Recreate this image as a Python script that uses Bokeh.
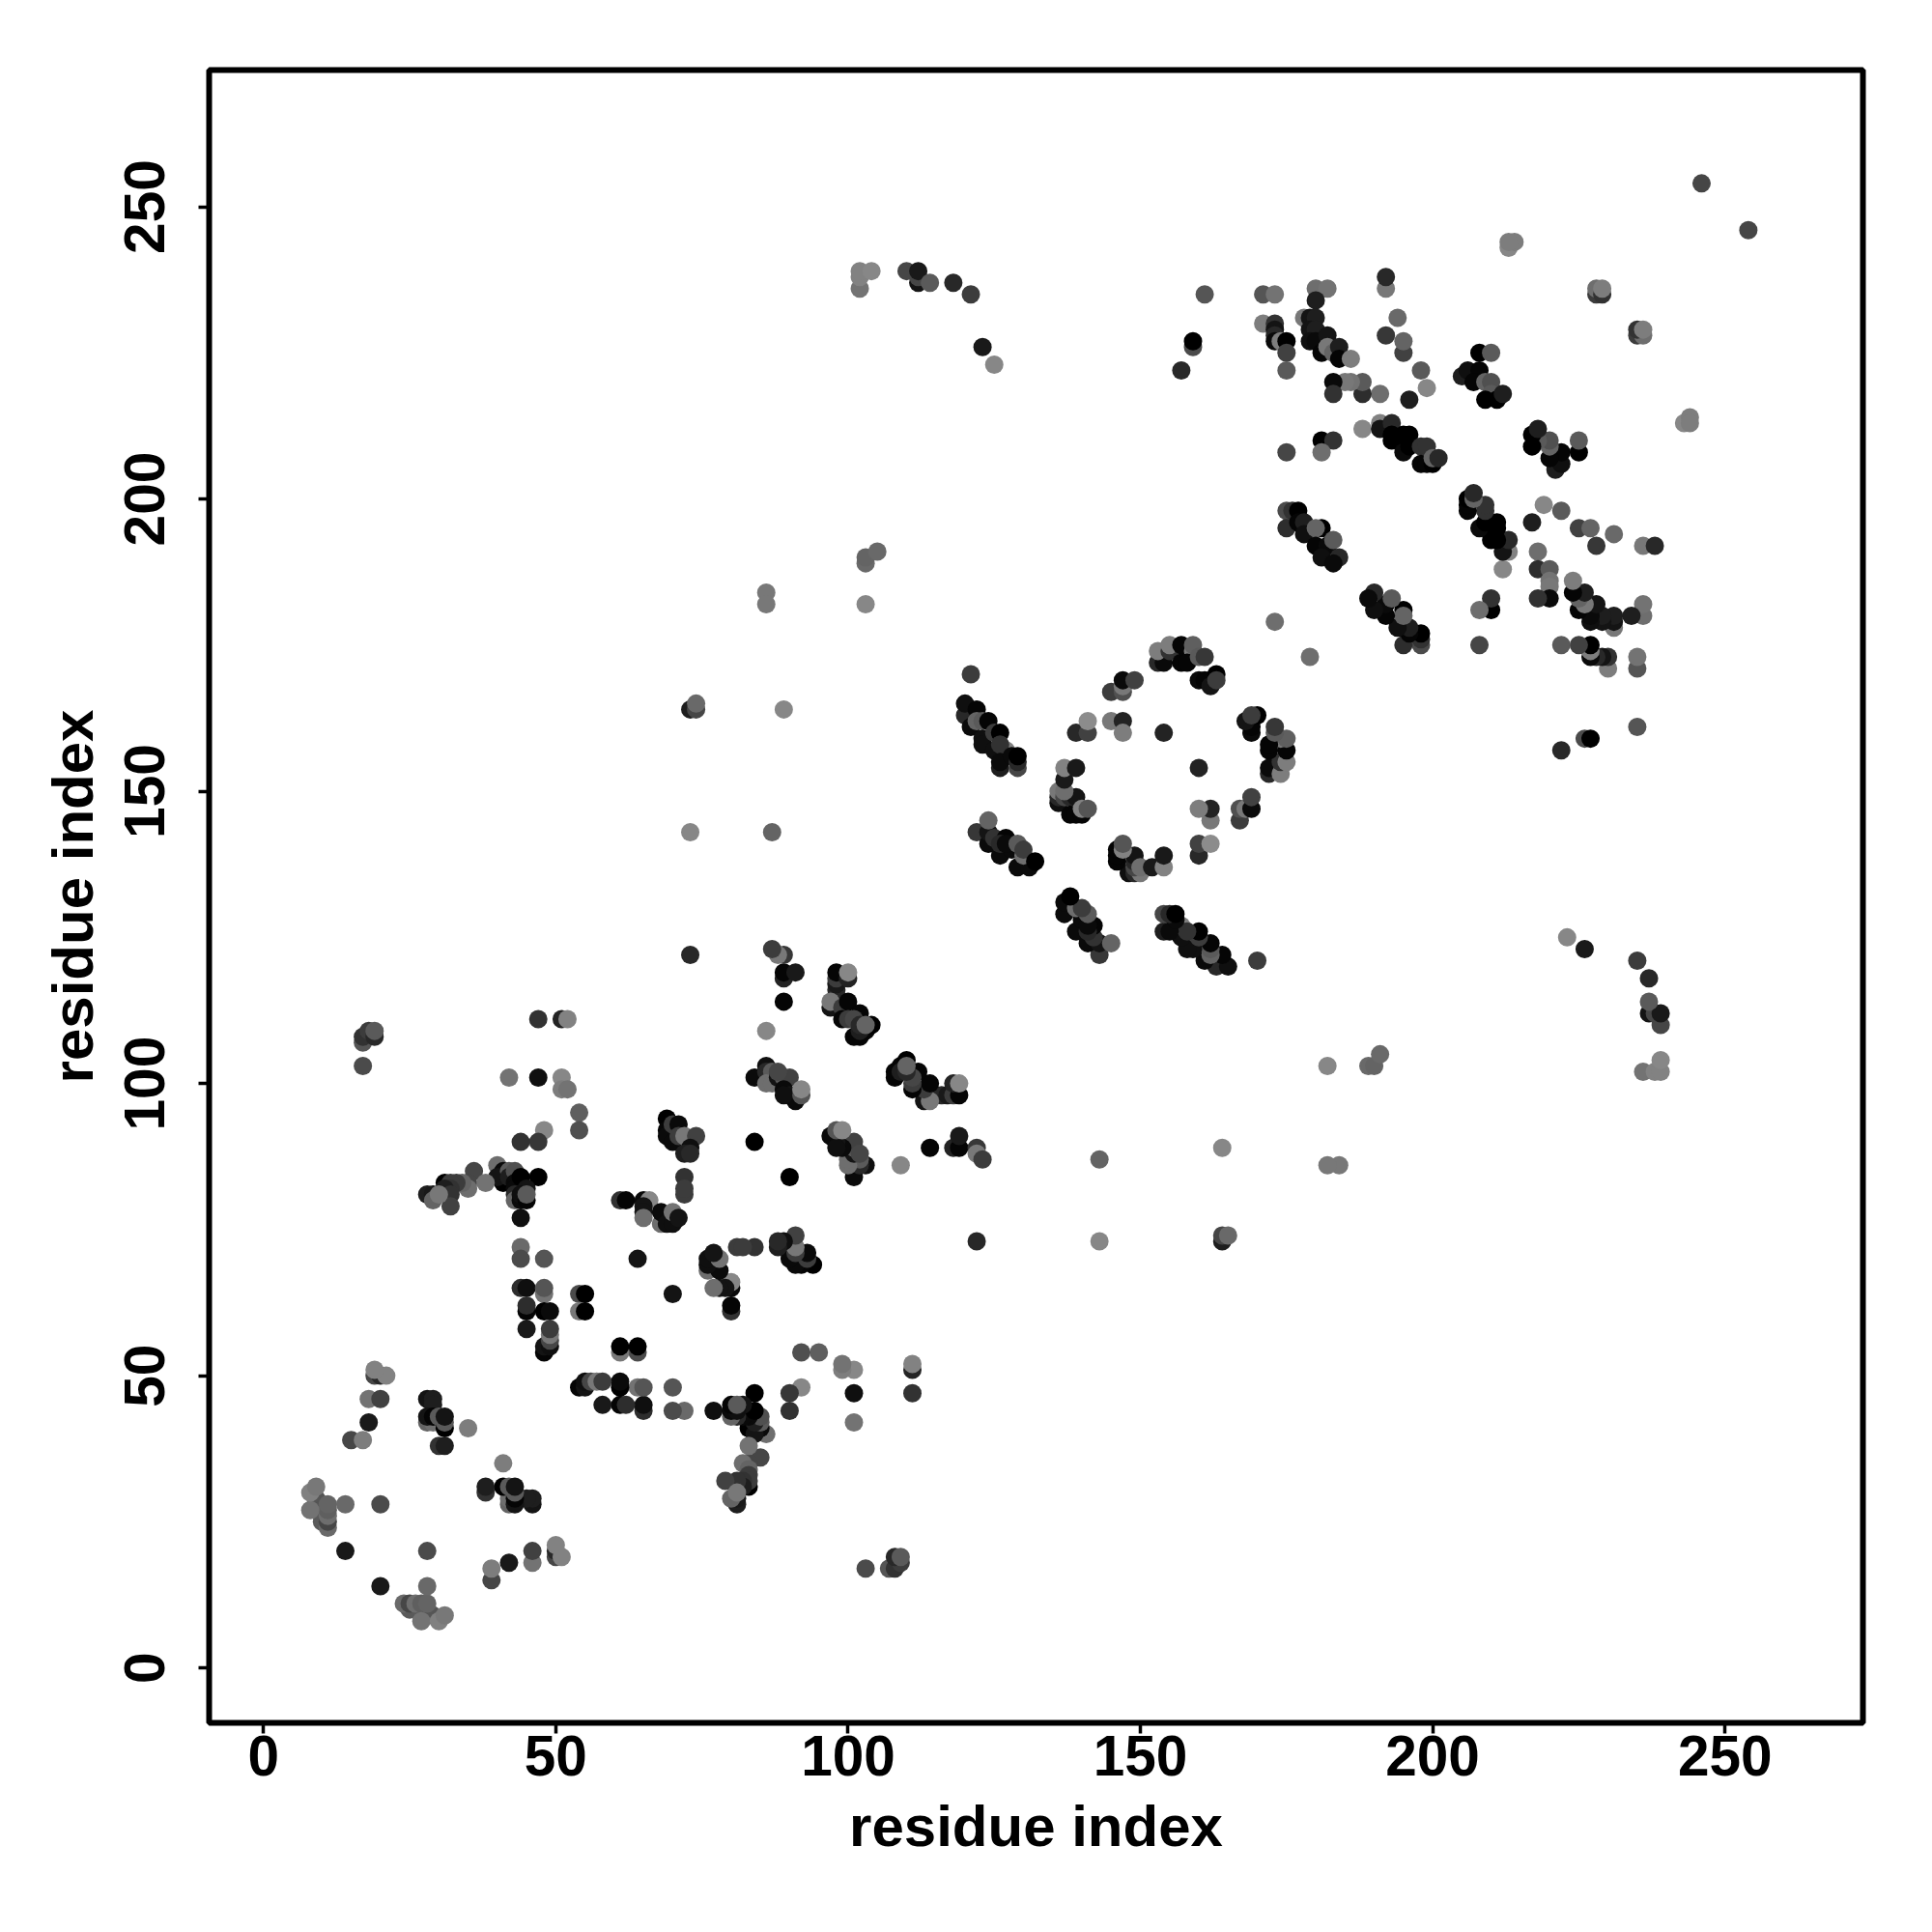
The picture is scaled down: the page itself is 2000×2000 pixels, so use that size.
from bokeh.plotting import figure
from bokeh.models import FixedTicker
from bokeh.embed import file_html
from bokeh.resources import INLINE

# contacts: residue i, residue j, grey level
i_a = [9,9,10,10,10,10,11,11,11,11,11,8,8,9,14,20,14]
j_a = [29,28,28,27,26,25,24,25,26,27,28,27,30,31,28,28,20]
g_a = [85,90,85,85,95,90,105,70,110,95,100,115,128,120,105,75,25]

i_b = [15,17,18,18,20,19,20,21,19]
j_b = [39,39,42,46,46,50,50,50,51]
g_b = [70,125,25,115,65,70,40,130,130]

i_c = [17,17,17,18,19,19]
j_c = [103,107,108,109,108,109]
g_c = [75,85,50,60,40,90]

i_d = [28,29,29,28,29,28,29,30,31,31,31,30,31,35]
j_d = [46,46,45,42,42,43,43,43,41,42,43,38,38,41]
g_d = [20,30,30,100,110,20,5,90,0,90,20,50,30,125]

i_e = [44,44,48,44,44,45,48,48,45,45,48,49,45,48,48,49,49,49,49,54,55,54,55,64]
j_e = [72,70,70,77,65,65,64,65,61,62,61,61,58,54,55,55,56,57,58,64,64,61,61,70]
g_e = [105,75,85,15,45,15,115,85,5,45,0,10,25,5,20,15,70,120,60,75,0,120,0,20]

i_f = [61,62,65,66,65,65,65,68,68,69,70,70,71]
j_f = [80,80,80,80,79,78,77,76,78,76,76,78,77]
g_f = [50,5,10,135,20,20,110,110,10,15,15,115,20]

i_g = [72,72,72,69,69,69,70,71,70,71,72,74,73,72,73,73,73,73,74,74]
j_g = [81,84,82,94,92,91,93,93,90,91,91,91,89,88,88,122,143,164,164,165]
g_g = [60,50,60,0,5,10,60,10,10,60,120,65,15,30,40,40,135,30,70,105]

i_h = [40,41,41,40,42,42,43,43,43,44,47,43,43,44,45,44,45,45]
j_h = [86,85,83,84,85,84,85,83,82,84,84,81,80,80,82,81,80,81]
g_h = [110,10,0,20,90,30,80,10,10,0,0,40,100,10,20,15,5,90]

i_k = [36,35,35,34,33,38,31,32,32,31,32,32,28,29,29,30]
j_k = [85,83,82,83,83,83,83,83,82,82,81,79,81,81,80,81]
g_k = [70,70,110,100,60,115,0,60,50,30,50,65,30,25,100,120]

i_l = [42,47,51,51,52,54,54,48,47,44,47,51,52]
j_l = [101,101,101,99,99,95,92,92,90,90,111,111,111]
g_l = [115,15,135,125,115,95,80,135,55,50,50,35,130]

i_m = [84,84,89,86,86,87,86,87,88,89,90,89,90,91,89,88,92,92]
j_m = [90,101,114,103,102,102,100,100,101,101,101,99,98,97,98,102,98,99]
g_m = [0,10,5,15,40,90,110,110,20,90,65,10,20,10,15,70,85,135]

i_n = [89,89,91,89,88,87,86,87,89]
j_n = [118,119,119,122,122,123,109,143,164]
g_n = [35,5,25,55,120,60,135,100,135]

i_o = [98,98,98,98,98,97,97,99,100,99,100,102,101,102,101,103,102,102,104,103,100,100]
j_o = [115,116,117,118,119,113,114,113,114,111,111,112,111,108,108,109,109,110,110,110,118,119]
g_o = [40,40,25,60,5,20,120,60,5,5,60,5,70,5,5,5,30,40,0,100,35,135]

i_p = [122,124,124,124,125,126,127,128,129,131,130,126,127,129,130,132]
j_p = [143,141,143,145,142,139,142,140,137,137,139,141,141,141,140,138]
g_p = [55,10,20,100,50,10,5,10,10,10,110,40,10,90,60,0]

i_q = [120,120,121,122,122,123,124,123,123,125,126,125,127,126,126,126,128,129,129,129]
j_q = [163,165,161,164,162,162,162,159,158,160,160,157,157,158,154,155,156,154,155,156]
g_q = [40,15,10,5,100,90,5,15,15,60,0,15,130,50,30,10,10,70,40,0]

i_r = [136,136,136,137,138,138,139,139,140,137,137,137,139,140,141]
j_r = [148,149,150,149,149,146,146,149,146,150,152,154,154,147,147]
g_r = [15,40,120,70,40,5,5,20,5,110,25,130,25,130,85]

i_s = [139,141,141,145,147,147,154]
j_s = [160,160,162,162,162,160,160]
g_s = [40,65,140,120,35,125,35]

i_t = [86,86,103,103,103,105,102,102,102,104,110,112,112,112,114,118,121,123,125,161,159,159,157,121]
j_t = [184,182,182,189,190,191,236,238,239,239,239,237,238,239,237,237,235,226,223,235,226,227,222,170]
g_t = [120,120,135,105,100,105,115,130,130,135,70,20,70,25,90,40,60,25,135,85,75,0,40,60]

i_u = [145,147,147,147,149,153,154,153,155,155,157,159,159,157,158,160,161,160,162,161,162,163,163]
j_u = [167,167,168,169,169,172,172,174,174,175,175,174,175,172,172,173,173,169,169,169,168,170,169]
g_u = [60,80,120,10,65,40,10,125,50,125,5,120,95,5,5,90,55,10,10,5,20,0,60]

i_v = [213,214,213,228,228,229,229,192,192,194,192,195,195,198,199,196,191,188,188,186,185,183,183,171,173,180,182,180,246,173]
j_v = [243,244,244,235,236,235,236,236,238,231,228,225,227,222,219,217,218,218,220,220,220,220,218,235,235,236,236,234,254,179]
g_v = [135,125,125,60,110,50,125,120,40,105,55,65,100,90,135,30,110,45,90,115,120,10,50,85,115,110,115,30,70,110]

i_w = [171,173,173,173,173,174,175,175,175,178,179,180,179,180,179,180,182,181,182,183,184,184,186,175,181,183,181]
j_w = [230,230,229,228,227,227,227,225,222,231,231,231,229,229,227,227,228,225,226,225,226,224,224,208,210,210,208]
g_w = [125,50,20,40,10,125,0,65,90,120,20,30,20,30,15,10,20,5,120,100,30,5,125,70,0,50,110]

i_x = [188,191,191,193,193,195,196,193,194,195,196,198,199,198,199,200,200,201]
j_x = [212,213,212,213,211,211,211,210,210,208,209,209,209,206,206,206,207,207]
g_x = [135,130,20,40,0,0,0,0,0,10,0,50,50,5,5,0,100,40]

i_y = [175,176,177,175,177,178,178,181,180,180,182,183,181,184,183]
j_y = [198,198,198,195,196,196,194,195,195,192,192,193,190,190,189]
g_y = [75,50,0,45,5,30,15,0,100,5,10,90,15,40,10]

i_z = [208,210,205,206,208,207,209,210,210,209,211,212]
j_z = [225,225,221,222,222,220,220,220,218,217,217,218]
g_z = [0,90,30,15,5,5,100,80,90,0,0,30]

res_i = (i_a+i_b+i_c+i_d+i_e+i_f+i_g+i_h+i_k+i_l+i_m+i_n+i_o+i_p+i_q+i_r+i_s+i_t+i_u+i_v+i_w+i_x+i_y+i_z)
res_j = (j_a+j_b+j_c+j_d+j_e+j_f+j_g+j_h+j_k+j_l+j_m+j_n+j_o+j_p+j_q+j_r+j_s+j_t+j_u+j_v+j_w+j_x+j_y+j_z)
grey = (g_a+g_b+g_c+g_d+g_e+g_f+g_g+g_h+g_k+g_l+g_m+g_n+g_o+g_p+g_q+g_r+g_s+g_t+g_u+g_v+g_w+g_x+g_y+g_z)
tick_values = [0, 50, 100, 150, 200, 250]

colors = ["#%02x%02x%02x" % (g, g, g) for g in grey]

p = figure(width=1988, height=1983, output_backend="svg", toolbar_location=None,
           x_range=(-9.3, 273.6), y_range=(-9.4, 273.4),
           min_border_left=216, min_border_right=60, min_border_top=72, min_border_bottom=200)
p.frame_width = 1712
p.frame_height = 1711
p.grid.visible = False
p.outline_line_color = "black"
p.outline_line_width = 6
p.background_fill_color = "white"

p.scatter(res_i, res_j, size=19, color=colors, line_color=None)
p.scatter(res_j, res_i, size=19, color=colors, line_color=None)

for ax in (p.xaxis[0], p.yaxis[0]):
    ax.ticker = FixedTicker(ticks=tick_values)
    ax.axis_label = "residue index"
    ax.axis_label_text_font = "Liberation Sans"
    ax.axis_label_text_font_style = "bold"
    ax.axis_label_text_font_size = "60px"
    ax.axis_label_text_color = "black"
    ax.major_label_text_font = "Liberation Sans"
    ax.major_label_text_font_style = "bold"
    ax.major_label_text_font_size = "58.5px"
    ax.major_label_text_color = "black"
    ax.axis_line_color = None
    ax.major_tick_line_color = "black"
    ax.major_tick_line_width = 3.5
    ax.major_tick_out = 11
    ax.major_tick_in = 0
    ax.minor_tick_line_color = None
p.xaxis[0].major_label_standoff = 2
p.xaxis[0].axis_label_standoff = 16
p.yaxis[0].major_label_standoff = 35
p.yaxis[0].axis_label_standoff = 18
p.yaxis[0].major_label_orientation = "vertical"

open("out.html", "w").write(file_html(p, INLINE))
